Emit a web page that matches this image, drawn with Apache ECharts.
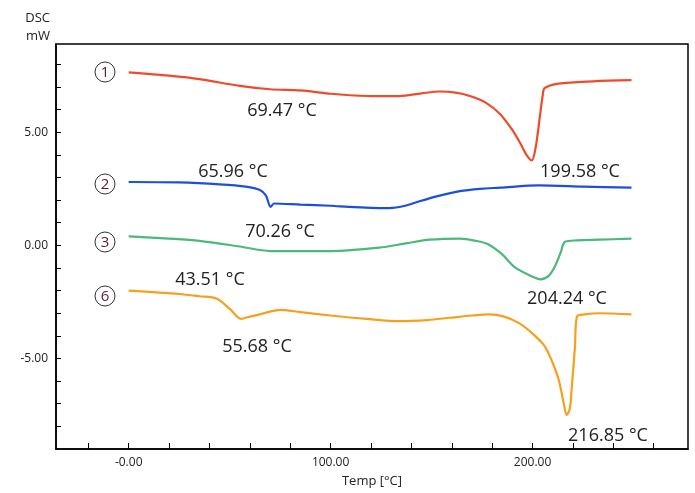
<!DOCTYPE html>
<html lang="en">
<head>
    <meta charset="UTF-8">
    <title>DSC</title>
    <script src="https://cdn.jsdelivr.net/npm/echarts@6/dist/echarts.min.js"></script>
    <style>
        html, body { margin: 0; padding: 0; background: #fff; }
        #main { width: 695px; height: 493px; }
    </style>
</head>
<body>
<div id="main"></div>
<script>
    // temperature [°C], DSC [mW]
    var curve1 = [[0,7.65],[20,7.5],[35,7.35],[55,7.05],[70,6.9],[85,6.85],[100,6.7],[120,6.6],[134,6.6],[145,6.72],[154,6.8],[162,6.75],[169,6.6],[177,6.3],[184,5.8],[190,5.1],[194,4.5],[197,4.0],[199.6,3.75],[201.5,4.3],[203.5,5.6],[205,6.6],[206,6.95],[213,7.15],[230,7.25],[249,7.3]];
    var curve2 = [[0,2.8],[25,2.78],[45,2.7],[58,2.6],[65,2.45],[68,2.2],[70.3,1.7],[72,1.85],[85,1.8],[100,1.75],[109,1.7],[120,1.66],[129,1.65],[137,1.75],[144,1.95],[154,2.2],[164,2.4],[174,2.5],[184,2.55],[203,2.65],[225,2.6],[249,2.55]];
    var curve3 = [[0,0.4],[20,0.3],[35,0.2],[55,-0.05],[70,-0.25],[100,-0.25],[124,-0.1],[138,0.1],[149,0.25],[164,0.3],[172,0.2],[178,0.05],[185,-0.4],[191,-0.95],[198,-1.3],[204,-1.5],[208,-1.35],[211,-0.95],[214,-0.3],[216,0.15],[222,0.22],[233,0.25],[249,0.3]];
    var curve6 = [[0,-2.0],[25,-2.15],[35,-2.25],[43.5,-2.35],[50,-2.8],[55.7,-3.25],[60,-3.15],[65,-3.05],[75,-2.85],[85,-2.95],[100,-3.1],[118,-3.25],[134,-3.35],[148,-3.3],[159,-3.2],[170,-3.1],[178.5,-3.05],[186,-3.15],[193.5,-3.45],[200,-3.9],[206,-4.45],[210,-5.2],[213,-5.95],[215.5,-7.0],[216.9,-7.5],[218.5,-7.2],[219.5,-6.2],[221,-4.5],[222,-3.15],[226,-3.05],[233,-3.0],[249,-3.05]];

    var xTicks = [-20, 0, 20, 40, 60, 80, 100, 120, 140, 160, 180, 200, 220, 240, 260];
    var xLabels = [0, 100, 200];
    var yTicks = [-8, -7, -6, -5, -4, -3, -2, -1, 0, 1, 2, 3, 4, 5, 6, 7, 8];
    var yLabels = [-5, 0, 5];

    var peakLabels = [
        ['69.47 °C', 282, 111], ['199.58 °C', 580, 172],
        ['65.96 °C', 233, 172], ['70.26 °C', 280, 232],
        ['204.24 °C', 567, 299],
        ['43.51 °C', 210, 280], ['55.68 °C', 257, 347],
        ['216.85 °C', 608, 436]
    ];
    var circled = [['1', 105, 72], ['2', 105, 184], ['3', 105, 242], ['6', 105, 296]];

    var graphics = [];
    peakLabels.forEach(function (p) {
        graphics.push({ type: 'text', x: p[1], y: p[2], z: 10,
            style: { text: p[0], font: '18px "Open Sans", sans-serif', fill: '#222', align: 'center', verticalAlign: 'middle' } });
    });
    circled.forEach(function (c) {
        graphics.push({ type: 'circle', z: 10, shape: { cx: c[1], cy: c[2], r: 10 }, style: { fill: '#fff', stroke: '#333', lineWidth: 1 } });
        graphics.push({ type: 'text', z: 11, x: c[1], y: c[2] + 1,
            style: { text: c[0], font: '15px "Open Sans", sans-serif', fill: '#5a1a3a', align: 'center', verticalAlign: 'middle' } });
    });
    graphics.push({ type: 'text', x: 50, y: 18, style: { text: 'DSC', font: '13px "Open Sans", sans-serif', fill: '#222', align: 'right', verticalAlign: 'middle' } });
    graphics.push({ type: 'text', x: 50, y: 36, style: { text: 'mW', font: '13px "Open Sans", sans-serif', fill: '#222', align: 'right', verticalAlign: 'middle' } });

    var myChart = echarts.init(document.getElementById('main'));

    function mkSeries(data, color) {
        return { type: 'line', data: data, smooth: 0.3, showSymbol: false, lineStyle: { color: color, width: 2.2 }, animation: false };
    }

    var option = {
        backgroundColor: '#fff',
        grid: { left: 56, right: 7, top: 44, bottom: 39, show: true, borderColor: '#000', borderWidth: 1.5 },
        xAxis: {
            type: 'value', min: -36, max: 277,
            name: 'Temp [°C]', nameLocation: 'middle', nameGap: 26,
            nameTextStyle: { color: '#222', fontSize: 13, fontFamily: 'Open Sans' },
            axisLine: { onZero: false, lineStyle: { color: '#000', width: 1.5 } },
            axisTick: { inside: true, length: 6, lineStyle: { color: '#000' }, customValues: xTicks },
            axisLabel: { customValues: xLabels, color: '#222', fontSize: 12, fontFamily: 'Open Sans',
                formatter: function (v) { return v === 0 ? '-0.00' : v.toFixed(2); } },
            splitLine: { show: false }
        },
        yAxis: {
            type: 'value', min: -9, max: 8.9,
            axisLine: { show: true, onZero: false, lineStyle: { color: '#000', width: 1.5 } },
            axisTick: { show: true, inside: true, length: 5, lineStyle: { color: '#000' }, customValues: yTicks },
            axisLabel: { customValues: yLabels, color: '#222', fontSize: 12, fontFamily: 'Open Sans',
                formatter: function (v) { return v.toFixed(2); } },
            splitLine: { show: false }
        },
        series: [
            mkSeries(curve1, '#f04a2a'),
            mkSeries(curve2, '#1a4fe0'),
            mkSeries(curve3, '#4cb87a'),
            mkSeries(curve6, '#f7a01e')
        ],
        graphic: graphics
    };
    myChart.setOption(option);
</script>
</body>
</html>
